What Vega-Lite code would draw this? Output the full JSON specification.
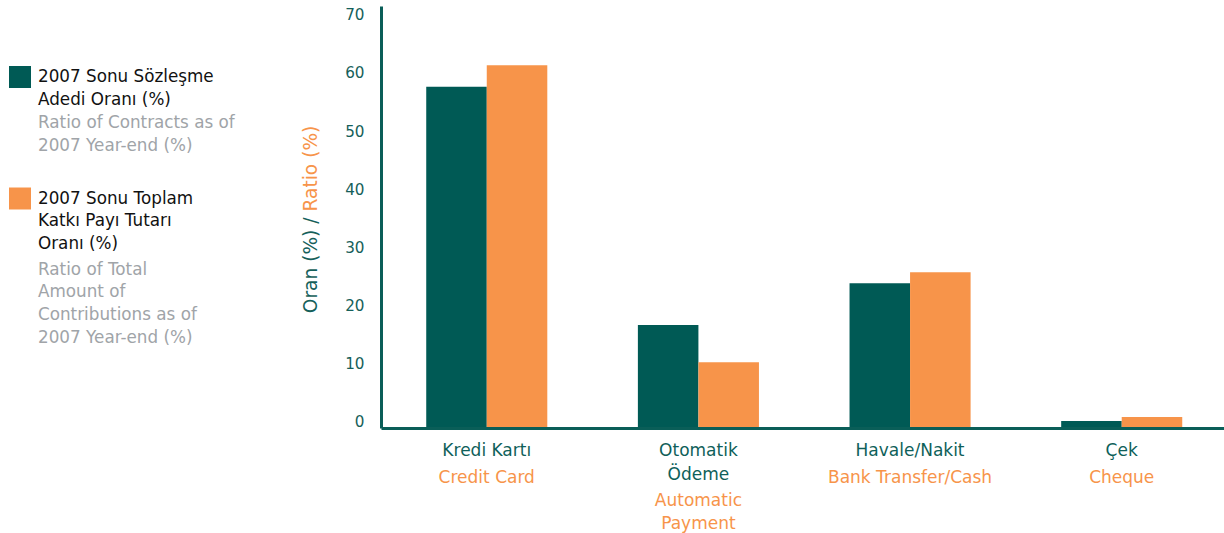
{
  "$schema": "https://vega.github.io/schema/vega-lite/v6.json",
  "width": 843,
  "height": 422,
  "autosize": {"type": "none"},
  "padding": {"left": 381, "top": 6, "right": 0, "bottom": 105},
  "background": "white",
  "config": {
    "view": {"stroke": null},
    "font": "DejaVu Sans",
    "style": {"guide-label": {"lineHeight": 22.7}}
  },
  "data": {
    "values": [
      {"cat": "Kredi Kartı", "series": "2007 Sonu Sözleşme Adedi Oranı (%)", "series_en": "Ratio of Contracts as of 2007 Year-end (%)", "value": 58.7},
      {"cat": "Kredi Kartı", "series": "2007 Sonu Toplam Katkı Payı Tutarı Oranı (%)", "series_en": "Ratio of Total Amount of Contributions as of 2007 Year-end (%)", "value": 62.4},
      {"cat": "Otomatik Ödeme", "series": "2007 Sonu Sözleşme Adedi Oranı (%)", "series_en": "Ratio of Contracts as of 2007 Year-end (%)", "value": 17.7},
      {"cat": "Otomatik Ödeme", "series": "2007 Sonu Toplam Katkı Payı Tutarı Oranı (%)", "series_en": "Ratio of Total Amount of Contributions as of 2007 Year-end (%)", "value": 11.3},
      {"cat": "Havale/Nakit", "series": "2007 Sonu Sözleşme Adedi Oranı (%)", "series_en": "Ratio of Contracts as of 2007 Year-end (%)", "value": 24.9},
      {"cat": "Havale/Nakit", "series": "2007 Sonu Toplam Katkı Payı Tutarı Oranı (%)", "series_en": "Ratio of Total Amount of Contributions as of 2007 Year-end (%)", "value": 26.8},
      {"cat": "Çek", "series": "2007 Sonu Sözleşme Adedi Oranı (%)", "series_en": "Ratio of Contracts as of 2007 Year-end (%)", "value": 1.2},
      {"cat": "Çek", "series": "2007 Sonu Toplam Katkı Payı Tutarı Oranı (%)", "series_en": "Ratio of Total Amount of Contributions as of 2007 Year-end (%)", "value": 1.9}
    ]
  },
  "layer": [
    {
      "mark": {"type": "bar"},
      "encoding": {
        "x": {
          "field": "cat", "type": "nominal", "sort": null,
          "scale": {"paddingInner": 0.428, "paddingOuter": 0.2055, "align": 0.52},
          "axis": {
            "orient": "bottom",
            "title": null, "ticks": false, "tickSize": 0, "grid": false,
            "domainColor": "#0A5E58", "domainWidth": 3, "zindex": 1,
            "labelAngle": 0, "labelFont": "DejaVu Sans", "labelFontSize": 17, "labelColor": "#0F5F5A",
            "labelBaseline": "top", "labelPadding": 14.7, "labelLineHeight": 24,
            "labelExpr": "datum.label == 'Otomatik Ödeme' ? ['Otomatik', 'Ödeme'] : datum.label"
          }
        },
        "xOffset": {"field": "series", "type": "nominal", "sort": null, "scale": {"paddingInner": 0, "paddingOuter": 0}},
        "y": {
          "field": "value", "type": "quantitative",
          "scale": {"domain": [0, 72.6], "nice": false, "zero": true},
          "axis": {
            "orient": "left",
            "values": [0, 10, 20, 30, 40, 50, 60, 70],
            "grid": false, "ticks": false, "tickSize": 0,
            "domainColor": "#0A5E58", "domainWidth": 3, "zindex": 1,
            "labelFont": "DejaVu Sans", "labelFontSize": 15.2, "labelColor": "#15605A",
            "labelPadding": 17, "labelOffset": -6.3,
            "title": "Oran (%) /", "titleColor": "#15605A", "titleFont": "DejaVu Sans",
            "titleFontSize": 18.6, "titleFontWeight": "normal", "titleAngle": -90,
            "titleAlign": "right", "titleBaseline": "alphabetic", "titleX": -65, "titleY": 211
          }
        },
        "color": {
          "field": "series", "type": "nominal",
          "sort": ["2007 Sonu Sözleşme Adedi Oranı (%)", "2007 Sonu Toplam Katkı Payı Tutarı Oranı (%)"],
          "scale": {"range": ["#005A55", "#F7944A"]},
          "legend": {
            "orient": "none", "legendX": -372, "legendY": 60, "title": null, "padding": 0,
            "symbolType": "square", "symbolSize": 484, "symbolStrokeWidth": 0, "symbolOpacity": 1,
            "labelFont": "DejaVu Sans", "labelFontSize": 16.8, "labelColor": "#111111",
            "labelOffset": 7, "labelBaseline": "middle", "labelLimit": 400, "rowPadding": 78.5,
            "labelExpr": "datum.label == '2007 Sonu Sözleşme Adedi Oranı (%)' ? ['2007 Sonu Sözleşme', 'Adedi Oranı (%)'] : ['2007 Sonu Toplam', 'Katkı Payı Tutarı', 'Oranı (%)']"
          }
        }
      }
    },
    {
      "mark": {"type": "bar", "opacity": 0},
      "encoding": {
        "x": {
          "field": "cat", "type": "nominal", "sort": null,
          "axis": {
            "orient": "bottom",
            "title": null, "ticks": false, "tickSize": 0, "grid": false, "domain": false,
            "labelAngle": 0, "labelFont": "DejaVu Sans", "labelFontSize": 17, "labelColor": "#F7944A",
            "labelBaseline": "top", "labelPadding": 41, "labelLineHeight": 23,
            "labelExpr": "datum.label == 'Kredi Kartı' ? 'Credit Card' : datum.label == 'Otomatik Ödeme' ? ['', 'Automatic', 'Payment'] : datum.label == 'Havale/Nakit' ? 'Bank Transfer/Cash' : 'Cheque'"
          }
        },
        "y": {
          "field": "value", "type": "quantitative",
          "axis": {
            "orient": "left",
            "labels": false, "ticks": false, "domain": false, "grid": false,
            "title": "Ratio (%)", "titleColor": "#F7944A", "titleFont": "DejaVu Sans",
            "titleFontSize": 18.6, "titleFontWeight": "normal", "titleAngle": -90,
            "titleAlign": "left", "titleBaseline": "alphabetic", "titleX": -65, "titleY": 205
          }
        },
        "stroke": {
          "field": "series_en", "type": "nominal",
          "sort": ["Ratio of Contracts as of 2007 Year-end (%)", "Ratio of Total Amount of Contributions as of 2007 Year-end (%)"],
          "scale": {"range": ["transparent", "transparent"]},
          "legend": {
            "orient": "none", "legendX": -372, "legendY": 106, "title": null, "padding": 0,
            "symbolType": "square", "symbolSize": 484, "symbolStrokeWidth": 0, "symbolOpacity": 0,
            "symbolFillColor": "transparent",
            "labelFont": "DejaVu Sans", "labelFontSize": 16.8, "labelColor": "#A0A4A8",
            "labelOffset": 7, "labelBaseline": "middle", "labelLimit": 400, "rowPadding": 103.5,
            "labelExpr": "datum.label == 'Ratio of Contracts as of 2007 Year-end (%)' ? ['Ratio of Contracts as of', '2007 Year-end (%)'] : ['Ratio of Total', 'Amount of', 'Contributions as of', '2007 Year-end (%)']"
          }
        }
      }
    }
  ],
  "resolve": {"axis": {"x": "independent", "y": "independent"}}
}
